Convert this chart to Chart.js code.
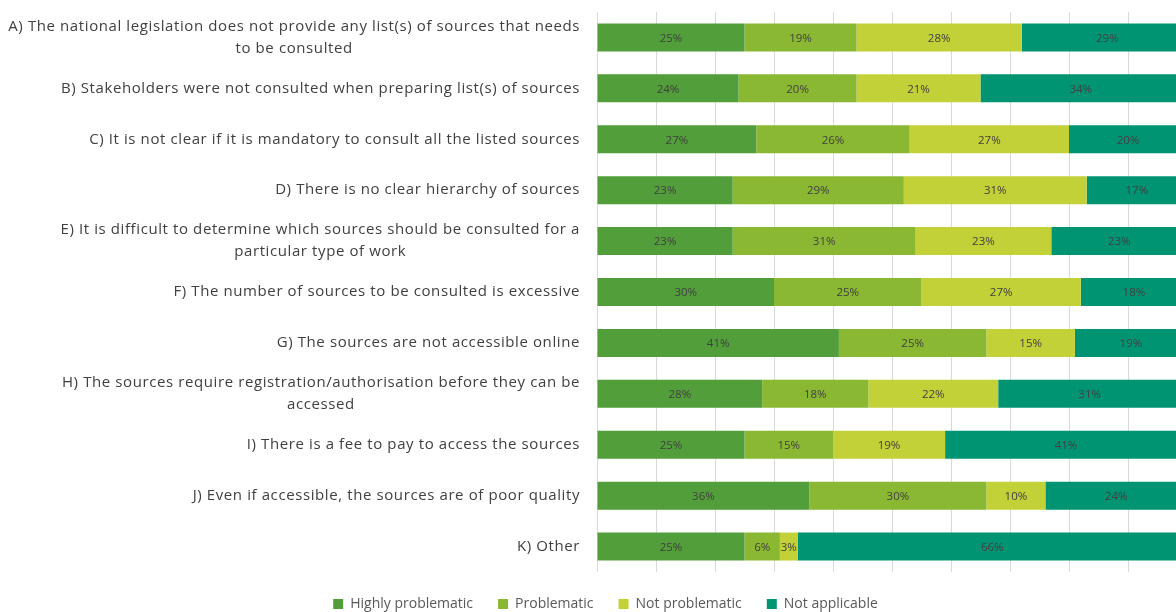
<!DOCTYPE html>
<html>
<head>
<meta charset="utf-8">
<script src="https://cdn.jsdelivr.net/npm/chart.js@4.4.1/dist/chart.umd.min.js"></script>
<style>
  html, body { margin: 0; padding: 0; overflow: hidden; background: #fff; }
  #wrap { position: absolute; left: 0; top: 0; width: 1210px; height: 612px; }
</style>
</head>
<body>
<div id="wrap"><canvas id="sourcesChart" width="1210" height="612"></canvas></div>
<script>
// Survey answers, share of respondents per statement (%)
const categories = [
    ['A) The national legislation does not provide any list(s) of sources that needs', 'to be consulted'],
    ['B) Stakeholders were not consulted when preparing list(s) of sources'],
    ['C) It is not clear if it is mandatory to consult all the listed sources'],
    ['D) There is no clear hierarchy of sources'],
    ['E) It is difficult to determine which sources should be consulted for a', 'particular type of work'],
    ['F) The number of sources to be consulted is excessive'],
    ['G) The sources are not accessible online'],
    ['H) The sources require registration/authorisation before they can be', 'accessed'],
    ['I) There is a fee to pay to access the sources'],
    ['J) Even if accessible, the sources are of poor quality'],
    ['K) Other']
];
const highlyProblematic = [25, 24, 27, 23, 23, 30, 41, 28, 25, 36, 25];
const problematic = [19, 20, 26, 29, 31, 25, 25, 18, 15, 30, 6];
const notProblematic = [28, 21, 27, 31, 23, 27, 15, 22, 19, 10, 3];
const notApplicable = [29, 34, 20, 17, 23, 18, 19, 31, 41, 24, 66];

const FONT = '"Open Sans", Lato, sans-serif';

// value labels in the middle of every segment
const segmentLabels = {
    id: 'segmentLabels',
    afterDatasetsDraw(chart) {
        const ctx = chart.ctx;
        ctx.save();
        ctx.font = '11.5px ' + FONT;
        ctx.fillStyle = '#404040';
        ctx.textAlign = 'center';
        ctx.textBaseline = 'middle';
        chart.data.datasets.forEach((ds, i) => {
            const meta = chart.getDatasetMeta(i);
            meta.data.forEach((bar, j) => {
                const p = bar.getProps(['x', 'y', 'base'], true);
                ctx.fillText(ds.data[j] + '%', (p.x + p.base) / 2, p.y + 1);
            });
        });
        ctx.restore();
    }
};

// statement labels: block right-aligned, lines centred inside the block
const categoryLabels = {
    id: 'categoryLabels',
    afterDraw(chart) {
        const ctx = chart.ctx;
        const yScale = chart.scales.y;
        const right = chart.chartArea.left - 17;
        ctx.save();
        ctx.font = '15px ' + FONT;
        ctx.letterSpacing = '0.6px';
        ctx.fillStyle = '#404040';
        ctx.textAlign = 'center';
        ctx.textBaseline = 'middle';
        categories.forEach((lines, i) => {
            const blockW = Math.max(...lines.map(l => ctx.measureText(l).width));
            const cx = right - blockW / 2;
            const cy = yScale.getPixelForValue(i);
            lines.forEach((line, k) => {
                ctx.fillText(line, cx, cy + (k - (lines.length - 1) / 2) * 22);
            });
        });
        ctx.restore();
    }
};

const ctx = document.getElementById('sourcesChart').getContext('2d');
const sourcesChart = new Chart(ctx, {
    type: 'bar',
    data: {
        labels: categories.map(l => l.join(' ')),
        datasets: [
            { label: 'Highly problematic', data: highlyProblematic, backgroundColor: '#529E3A' },
            { label: 'Problematic', data: problematic, backgroundColor: '#8BB833' },
            { label: 'Not problematic', data: notProblematic, backgroundColor: '#C2D138' },
            { label: 'Not applicable', data: notApplicable, backgroundColor: '#009473' }
        ]
    },
    options: {
        indexAxis: 'y',
        responsive: false,
        animation: false,
        devicePixelRatio: 1,
        categoryPercentage: 1,
        barPercentage: 0.55,
        layout: { padding: { left: 24, right: 23, top: 12, bottom: 0 } },
        scales: {
            x: {
                stacked: true,
                min: 0,
                max: 100,
                ticks: { display: false, stepSize: 10 },
                grid: { color: '#D9D9D9', lineWidth: 1, drawTicks: false },
                border: { display: false }
            },
            y: {
                stacked: true,
                ticks: { display: false },
                grid: { display: false },
                border: { display: false },
                afterFit(scale) { scale.width = 573; }
            }
        },
        plugins: {
            legend: {
                position: 'bottom',
                maxHeight: 40,
                labels: {
                    boxWidth: 10,
                    boxHeight: 10,
                    padding: 25,
                    color: '#595959',
                    font: { family: FONT, size: 14 }
                }
            },
            tooltip: { enabled: false }
        }
    },
    plugins: [segmentLabels, categoryLabels]
});
</script>
</body>
</html>
